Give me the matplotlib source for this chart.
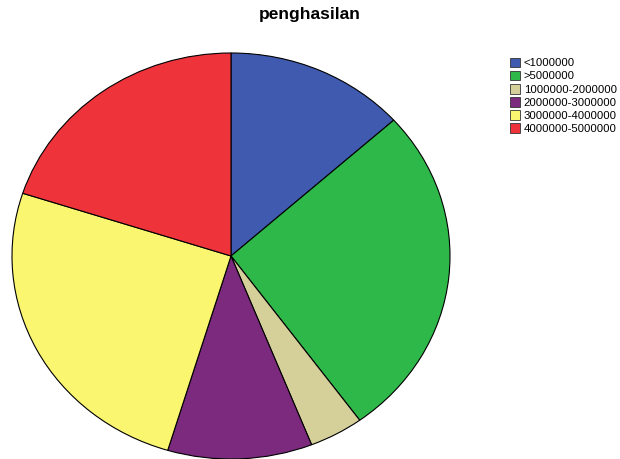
import matplotlib
matplotlib.use("Agg")
import matplotlib.pyplot as plt
from matplotlib.patches import Patch

plt.rcParams['font.family'] = ['Liberation Sans', 'DejaVu Sans']

# income groups and respondent counts
categories = ['<1000000', '>5000000', '1000000-2000000', '2000000-3000000',
              '3000000-4000000', '4000000-5000000']
counts = [10, 20, 3, 8, 19, 15]
colors = ['#3F5AAE', '#2EB84A', '#D5CF9A', '#7B2A7D', '#FBF670', '#EF333B']

fig = plt.figure(figsize=(6.2, 4.59), dpi=100)
fig.text(0.5, 0.968, 'penghasilan', ha='center', va='center',
         fontsize=12.5, fontweight='bold')

# pie stretched horizontally (aspect auto)
ax = fig.add_axes([12 / 620, 0.0, 438 / 620, 406 / 459])
wedges, _ = ax.pie(counts, colors=colors, startangle=90, counterclock=False,
                   radius=1.0,
                   wedgeprops=dict(edgecolor='black', linewidth=0.8))
ax.set_aspect('auto')
ax.set_xlim(-1.0, 1.0)
ax.set_ylim(-1.0, 1.0)
ax.axis('off')

handles = [Patch(facecolor=c, edgecolor='#333333', linewidth=0.6) for c in colors]
fig.legend(handles, categories, loc='upper left',
           bbox_to_anchor=(505 / 620, 1 - 53 / 459), frameon=False,
           fontsize=8.2, handlelength=0.95, handleheight=0.95,
           handletextpad=0.3, labelspacing=0.2, borderaxespad=0)

fig.savefig('out.png', dpi=100)
